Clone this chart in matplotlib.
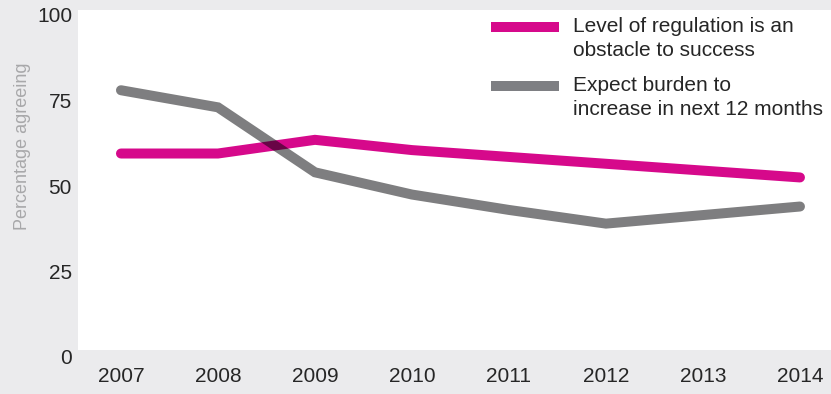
import matplotlib.pyplot as plt
from matplotlib.patches import Rectangle
from matplotlib.lines import Line2D

# Survey results
years = [2007, 2008, 2009, 2010, 2011, 2012, 2013, 2014]
obstacle = [59.5, 59.5, 63.5, 60.5, 58.5, 56.5, 54.5, 52.5]
burden = [78, 73, 54, 47.5, 43, 39, 41.5, 44]
y_ticks = [0, 25, 50, 75, 100]
labels = ["Level of regulation is an\nobstacle to success",
          "Expect burden to\nincrease in next 12 months"]

MAGENTA = "#d6098b"
GREY = "#7e7f83"
BG = "#ebebed"
TXT = "#262626"
W, H = 831, 394

plt.rcParams['font.family'] = ['Liberation Sans', 'DejaVu Sans']

fig = plt.figure(figsize=(W / 100, H / 100), dpi=100, facecolor=BG)

# white plot panel (slightly offset from the value scale, like the original)
fig.add_artist(Rectangle((78 / W, (H - 350) / H), 1 - 78 / W, 340 / H,
                         transform=fig.transFigure, facecolor="white",
                         edgecolor="none", zorder=-1))

ax = fig.add_axes([78 / W, (H - 357) / H, (W - 78) / W, (357 - 15) / H])
ax.patch.set_visible(False)
for s in ax.spines.values():
    s.set_visible(False)

ax.plot(years, obstacle, color=MAGENTA, lw=7.2, solid_capstyle='round',
        solid_joinstyle='miter', zorder=2)
# black at half alpha darkens what is underneath, like a multiply blend
ax.plot(years, burden, color="#000004", alpha=0.505, lw=7.2,
        solid_capstyle='round', solid_joinstyle='miter', zorder=3)

ax.set_xlim(2006.557, 2014.32)
ax.set_ylim(0, 100)
ax.set_xticks(years)
ax.set_yticks(y_ticks)
ax.tick_params(length=0, labelsize=15, labelcolor=TXT)
ax.tick_params(axis='x', pad=7)
ax.tick_params(axis='y', pad=4.3)

fig.text(23 / W, (H - 146) / H, "Percentage agreeing", rotation=90,
         ha='center', va='center', fontsize=13, color="#a8a8aa")

# legend drawn by hand: handle sits on the first text line
for lbl, col, yc in [(labels[0], MAGENTA, 27), (labels[1], GREY, 86)]:
    fig.add_artist(Line2D([491 / W, 559 / W], [(H - yc) / H] * 2,
                          transform=fig.transFigure, color=col, lw=7.2,
                          solid_capstyle='butt'))
    fig.text(573 / W, (H - yc - 11.5) / H, lbl, ha='left', va='center',
             fontsize=15, color=TXT, linespacing=1.28)

fig.savefig("out.png", dpi=100, facecolor=BG)
